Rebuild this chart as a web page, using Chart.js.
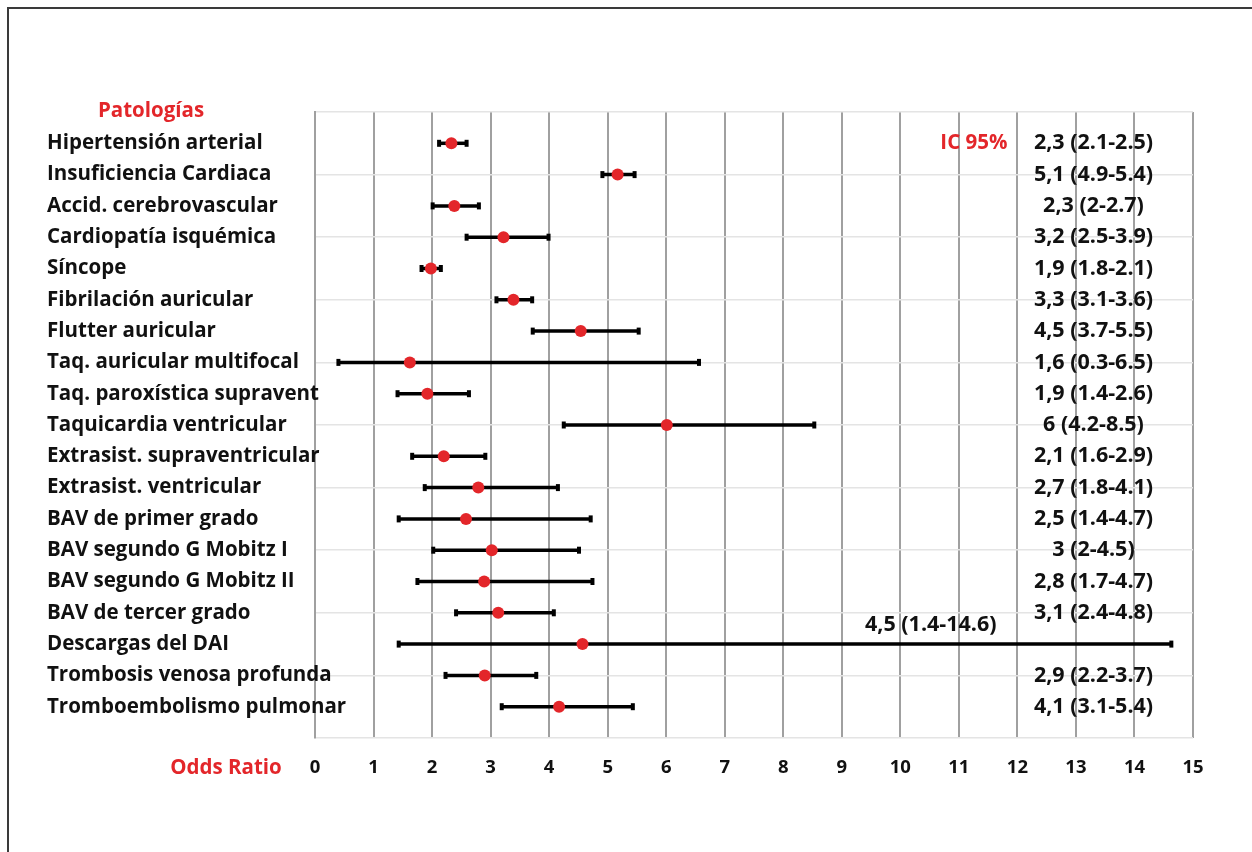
<!DOCTYPE html>
<html>
<head>
<meta charset="utf-8">
<script src="https://cdn.jsdelivr.net/npm/chart.js@4.4.1/dist/chart.umd.min.js"></script>
<style>
  html, body { margin: 0; padding: 0; background: #fff; }
  #wrap { position: relative; width: 1252px; height: 852px; overflow: hidden; }
  #frame { position: absolute; left: 7px; top: 7px; width: 1300px; height: 900px;
           border-top: 2px solid #3a3a3a; border-left: 2px solid #3a3a3a; }
  canvas { position: absolute; left: 0; top: 0; }
</style>
</head>
<body>
<div id="wrap">
  <div id="frame"></div>
  <canvas id="c" width="1252" height="852"></canvas>
</div>
<script>
// ---- data (top row first) ----
const categories = [
  "Hipertensión arterial",
  "Insuficiencia Cardiaca",
  "Accid. cerebrovascular",
  "Cardiopatía isquémica",
  "Síncope",
  "Fibrilación auricular",
  "Flutter auricular",
  "Taq. auricular multifocal",
  "Taq. paroxística supravent",
  "Taquicardia ventricular",
  "Extrasist. supraventricular",
  "Extrasist. ventricular",
  "BAV de primer grado",
  "BAV segundo G Mobitz I",
  "BAV segundo G Mobitz II",
  "BAV de tercer grado",
  "Descargas del DAI",
  "Trombosis venosa profunda",
  "Tromboembolismo pulmonar"
];
const oddsRatio = [2.33, 5.17, 2.38, 3.22, 1.98, 3.39, 4.54, 1.62, 1.92, 6.01, 2.2, 2.79, 2.58, 3.02, 2.89, 3.13, 4.57, 2.9, 4.17];
const ciLow     = [2.12, 4.91, 2.01, 2.59, 1.82, 3.1, 3.72, 0.4, 1.41, 4.25, 1.66, 1.875, 1.43, 2.02, 1.75, 2.41, 1.43, 2.23, 3.19];
const ciHigh    = [2.59, 5.46, 2.8, 3.99, 2.15, 3.71, 5.53, 6.56, 2.63, 8.53, 2.91, 4.15, 4.71, 4.51, 4.74, 4.08, 14.63, 3.78, 5.43];
const ciLabels  = [
  "2,3 (2.1-2.5)", "5,1 (4.9-5.4)", "2,3 (2-2.7)", "3,2 (2.5-3.9)", "1,9 (1.8-2.1)",
  "3,3 (3.1-3.6)", "4,5 (3.7-5.5)", "1,6 (0.3-6.5)", "1,9 (1.4-2.6)", "6 (4.2-8.5)",
  "2,1 (1.6-2.9)", "2,7 (1.8-4.1)", "2,5 (1.4-4.7)", "3 (2-4.5)", "2,8 (1.7-4.7)",
  "3,1 (2.4-4.8)", "4,5 (1.4-14.6)", "2,9 (2.2-3.7)", "4,1 (3.1-5.4)"
];
const xTicks = [0,1,2,3,4,5,6,7,8,9,10,11,12,13,14,15];
const axisTitles = { y: "Patologías", x: "Odds Ratio", ci: "IC 95%" };

// row position on the numeric y axis (top row highest)
const rowOf = i => categories.length - i;

const RED = '#e3262a';
const FONT = '"Open Sans", Lato, "Liberation Sans", sans-serif';

const datasets = [];
datasets.push({
  type: 'scatter',
  label: 'OR',
  data: oddsRatio.map((v, i) => ({ x: v, y: rowOf(i) })),
  pointRadius: 6,
  pointBackgroundColor: RED,
  pointBorderWidth: 0,
  order: 0
});
categories.forEach((c, i) => {
  datasets.push({
    type: 'line',
    label: c,
    data: [{ x: ciLow[i], y: rowOf(i) }, { x: ciHigh[i], y: rowOf(i) }],
    borderColor: '#000',
    borderWidth: 3.5,
    pointStyle: 'line',
    rotation: 90,
    pointRadius: 3.5,
    pointBorderWidth: 4,
    pointBorderColor: '#000',
    fill: false,
    order: 1
  });
});

const textPlugin = {
  id: 'texts',
  afterDatasetsDraw(chart) {
    const ctx = chart.ctx;
    const xs = chart.scales.x, ys = chart.scales.y;
    ctx.save();
    ctx.textBaseline = 'middle';
    // category labels (left aligned at the y-axis box's left edge)
    ctx.fillStyle = '#111';
    ctx.font = 'bold 20.5px ' + FONT;
    ctx.textAlign = 'left';
    categories.forEach((c, i) => {
      ctx.fillText(c, ys.left, ys.getPixelForValue(rowOf(i)));
    });
    // CI labels
    ctx.font = 'bold 21.5px ' + FONT;
    ctx.textAlign = 'center';
    ciLabels.forEach((t, i) => {
      const r = rowOf(i);
      if (ciHigh[i] > 12) {
        ctx.fillText(t, xs.getPixelForValue(10.52), ys.getPixelForValue(r + 0.62));
      } else {
        ctx.fillText(t, xs.getPixelForValue(13.3), ys.getPixelForValue(r));
      }
    });
    // red titles
    ctx.fillStyle = RED;
    ctx.font = 'bold 20.5px ' + FONT;
    ctx.textAlign = 'center';
    ctx.fillText(axisTitles.y, 151, ys.getPixelForValue(20) - 1);
    ctx.fillText(axisTitles.x, 226, 768);
    ctx.textAlign = 'right';
    ctx.fillText(axisTitles.ci, xs.getPixelForValue(11.83), ys.getPixelForValue(19));
    ctx.restore();
  }
};

new Chart(document.getElementById('c'), {
  type: 'scatter',
  data: { datasets },
  plugins: [textPlugin],
  options: {
    responsive: false,
    animation: false,
    events: [],
    layout: { padding: { left: 47, top: 112, right: 59, bottom: 0 } },
    plugins: { legend: { display: false }, tooltip: { enabled: false } },
    scales: {
      x: {
        type: 'linear',
        min: 0, max: 15,
        afterBuildTicks: s => { s.ticks = xTicks.map(v => ({ value: v })); },
        afterFit: s => { s.height = 114; },
        grid: { color: '#a0a0a0', lineWidth: 2, drawTicks: false },
        border: { display: false },
        ticks: {
          color: '#111',
          font: { family: FONT, size: 18.5, weight: 'bold' },
          padding: 19,
          maxRotation: 0,
          autoSkip: false
        }
      },
      y: {
        type: 'linear',
        min: 0, max: 20,
        afterBuildTicks: s => {
          const t = [];
          for (let v = 0; v <= 20; v++) t.push({ value: v });
          s.ticks = t;
        },
        afterFit: s => { s.width = 268; },
        grid: {
          drawTicks: false,
          color: c => (c.tick && c.tick.value % 2 === 0) ? '#e4e4e4' : 'rgba(0,0,0,0)',
          lineWidth: 1.5
        },
        border: { display: true, color: '#a0a0a0', width: 2 },
        ticks: { display: false }
      }
    }
  }
});
</script>
</body>
</html>
